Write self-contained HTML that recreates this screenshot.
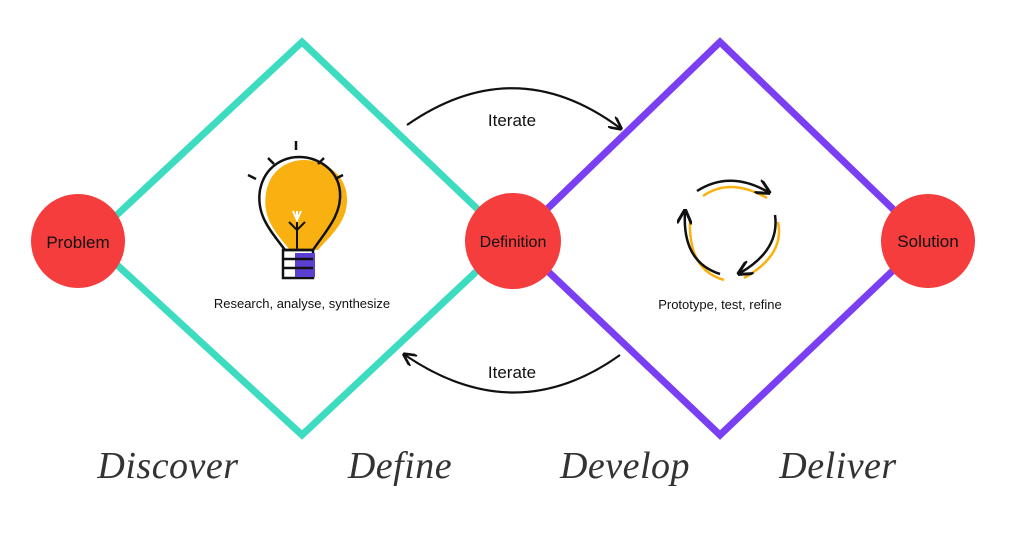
<!DOCTYPE html>
<html><head><style>
body{margin:0;background:#fff;width:1021px;height:552px;overflow:hidden}
</style></head><body>
<svg width="1021" height="552" viewBox="0 0 1021 552" xmlns="http://www.w3.org/2000/svg">
<defs>
<marker id="ah" viewBox="0 0 10 10" refX="8" refY="5" markerWidth="6" markerHeight="6" orient="auto"><path d="M0,0 L10,5 L0,10" fill="none" stroke="#111" stroke-width="2"/></marker>
</defs>
<polygon points="302,42 510,240 302,435 90,240" fill="none" stroke="#3ddcc0" stroke-width="7" stroke-linejoin="miter"/>
<polygon points="720,42 925,240 720,435 515,240" fill="none" stroke="#7a3ff2" stroke-width="7"/>
<circle cx="78" cy="241" r="47" fill="#f53d3d"/>
<circle cx="513" cy="241" r="48" fill="#f53d3d"/>
<circle cx="928" cy="241" r="47" fill="#f53d3d"/>
<g font-family="Liberation Sans, sans-serif" fill="#111" text-anchor="middle">
<text x="78" y="248" font-size="17">Problem</text>
<text x="513" y="247" font-size="16">Definition</text>
<text x="928" y="247" font-size="17">Solution</text>
<text x="302" y="308" font-size="13">Research, analyse, synthesize</text>
<text x="720" y="309" font-size="13">Prototype, test, refine</text>
<text x="512" y="126" font-size="17">Iterate</text>
<text x="512" y="378" font-size="17">Iterate</text>
</g>
<path d="M407,125 Q515,50 620,128" fill="none" stroke="#111" stroke-width="2.2" marker-end="url(#ah)"/>
<path d="M620,355 Q515,430 405,355" fill="none" stroke="#111" stroke-width="2.2" marker-end="url(#ah)"/>
<!-- bulb -->
<g>
<path d="M290,250 C275,232 262,218 266,193 C270,168 290,160 304,160 C322,160 346,172 347,198 C348,222 330,236 318,250 Z" fill="#f9b112"/>
<path d="M285,250 C270,230 256,215 260,190 C265,165 285,157 299,157 C316,157 338,168 340,192 C342,215 325,232 313,250 Z" fill="none" stroke="#111" stroke-width="2.5"/>
<rect x="283" y="250" width="30" height="28" fill="none" stroke="#111" stroke-width="2.5"/>
<rect x="295" y="253" width="20" height="24" fill="#5a3fd0"/>
<line x1="283" y1="259" x2="313" y2="259" stroke="#111" stroke-width="2.5"/>
<line x1="283" y1="268" x2="313" y2="268" stroke="#111" stroke-width="2.5"/>
<path d="M297,250 V222 M289,222 L297,230 L305,222 M297,232 V222" fill="none" stroke="#111" stroke-width="2"/>
<path d="M293,211 L297,220 L301,211 M297,220 V211" stroke="#fff" stroke-width="2" fill="none"/>
<g stroke="#111" stroke-width="2.5"><line x1="296" y1="150" x2="296" y2="141"/><line x1="268" y1="158" x2="274" y2="164"/><line x1="324" y1="158" x2="318" y2="164"/><line x1="248" y1="175" x2="256" y2="179"/><line x1="343" y1="175" x2="335" y2="179"/></g>
</g>
<!-- cycle -->
<g fill="none" stroke-width="2.5">
<path d="M703,196 Q730,177 767,198" stroke="#f9b112"/>
<path d="M697,191 Q730,170 768,192" stroke="#111" marker-end="url(#ah)"/>
<path d="M778,222 Q785,255 744,278" stroke="#f9b112"/>
<path d="M775,215 Q780,250 740,273" stroke="#111" marker-end="url(#ah)"/>
<path d="M724,280 Q688,270 690,220" stroke="#f9b112"/>
<path d="M720,274 Q682,262 685,212" stroke="#111" marker-end="url(#ah)"/>
</g>
<g font-family="Liberation Serif, serif" font-style="italic" font-size="38" fill="#333" text-anchor="middle" letter-spacing="0.5">
<text x="168" y="478">Discover</text>
<text x="400" y="478">Define</text>
<text x="625" y="478">Develop</text>
<text x="838" y="478">Deliver</text>
</g>
</svg>
</body></html>
